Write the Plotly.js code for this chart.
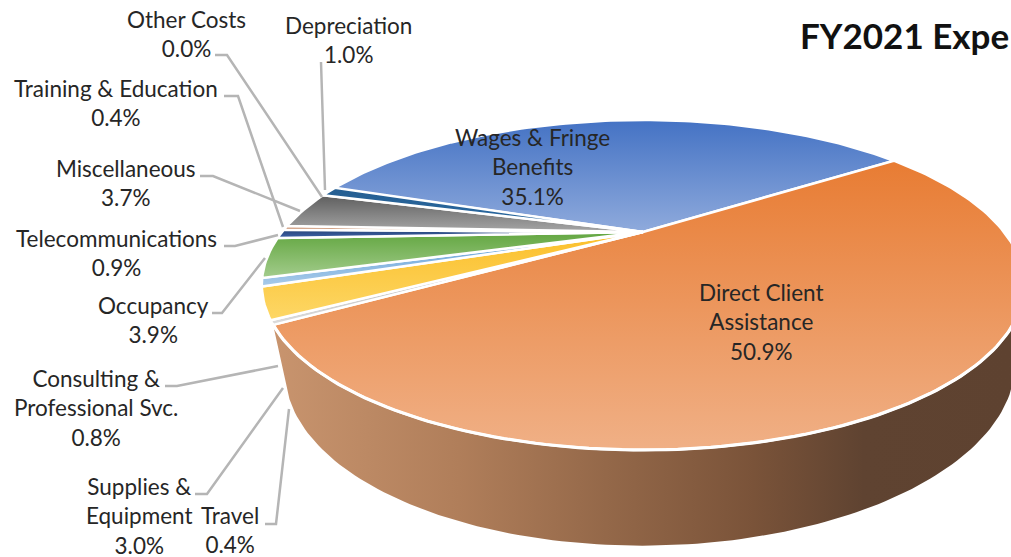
<!DOCTYPE html>
<html><head><meta charset="utf-8">
<script src="https://cdn.plot.ly/plotly-3.0.1.min.js"></script>
<style>html,body{margin:0;padding:0;background:#fff;overflow:hidden}#c{width:1011px;height:557px}</style>
</head><body><div id="c"></div>
<script>
// Data (clockwise from the start of the blue slice)
const categories = ['Wages & Fringe<br>Benefits','Direct Client<br>Assistance','Travel','Supplies &<br>Equipment','Consulting &<br>Professional Svc.','Occupancy','Telecommunications','Training & Education','Miscellaneous','Other Costs','Depreciation'];
const shares = [35.1,50.9,0.4,3.0,0.8,3.9,0.9,0.4,3.7,0.0,1.0];
const colorTop = ['#4472C4','#E87C33','#A5A5A5','#FBBF2A','#5B9BD5','#62A640','#264478','#B5714A','#5E5E5E','#997300','#255E91'];
const colorBottom = ['#8FAADC','#F0B086','#DCDCDC','#FDD766','#A9CBEA','#A3CC8C','#3F62A8','#E5B79A','#A6A6A6','#997300','#2A6AA3'];
const labelX = [532,761,230,139,96,153,116,116,126,186,348];
const labelY = [167,322,530,516,408,320,253,103,183,34,40];
const leaders = [null,null,
 [[265,276,289],[524,524,409]],
 [[195,207,283],[494,494,388]],
 [[165,177,278],[386,386,366]],
 [[212,222,265],[313,313,258]],
 [[224,235,278],[246,246,235]],
 [[224,238,283],[96,96,227]],
 [[200,213,300],[176,176,211]],
 [[215,227,322],[55,55,197]],
 [[321,321,325],[62,62,190]]];

// Perspective disc geometry
const cx=643, cy=232, R=361, S=148, k=0.321, startDeg=-71.1;
// Lower rim of the side wall: tilted ellipse
const wallCx=650, wallRx=365, wallCy=367.6, wallRy=178, wallTilt=3.8;
function rim(pct){
  const a=(90-(startDeg+pct*3.6))*Math.PI/180, u=Math.cos(a), v=Math.sin(a), d=1+k*v;
  return [cx+R*u/d, cy-S*v/d];
}
function arc(p0,p1){
  const n=Math.max(2,Math.ceil(Math.abs(p1-p0)*3)), X=[],Y=[];
  for(let i=0;i<=n;i++){const q=rim(p0+(p1-p0)*i/n);X.push(q[0]);Y.push(q[1]);}
  return [X,Y];
}
function wallRim(){
  const X=[],Y=[];
  for(let i=0;i<=120;i++){
    const t=i/120*Math.PI*0.95, u=Math.cos(t), w=Math.sin(t);
    X.push(wallCx+wallRx*u); Y.push(wallCy+wallRy*w-wallTilt*u);
  }
  return [X,Y];
}
const traces=[];
const oStart=shares[0], oEnd=shares[0]+shares[1];
const wT=arc(oEnd,oStart+12), wB=wallRim();
traces.push({type:'scatter',mode:'lines',x:wT[0].concat(wB[0]),y:wT[1].concat(wB[1]),fill:'toself',
  line:{width:0,color:'rgba(0,0,0,0)'},hoverinfo:'skip',
  fillgradient:{type:'horizontal',start:275,stop:1011,colorscale:[[0,'#C8946E'],[0.25,'#B07E5A'],[0.45,'#946849'],[0.65,'#7A5339'],[0.8,'#5F4331'],[1,'#5E4230']]}});
let acc=0;
shares.forEach((p,i)=>{
  if(p<=0){return;}
  const a=arc(acc,acc+p);
  const X=[cx].concat(a[0],[cx]), Y=[cy].concat(a[1],[cy]);
  traces.push({type:'scatter',mode:'lines',x:X,y:Y,fill:'toself',name:categories[i],
    line:{color:'#FFFFFF',width:2.5},hoverinfo:'skip',
    fillgradient:{type:'vertical',start:Math.min.apply(null,Y),stop:Math.max.apply(null,Y),
      colorscale:[[0,colorTop[i]],[1,colorBottom[i]]]}});
  acc+=p;
});
traces.push({type:'scatter',mode:'lines',x:wT[0],y:wT[1],line:{color:'#FFFFFF',width:3.2},hoverinfo:'skip'});
leaders.forEach(l=>{ if(l) traces.push({type:'scatter',mode:'lines',x:l[0],y:l[1],line:{color:'#B5B5B5',width:2.5},hoverinfo:'skip'}); });

const annotations=categories.map((c,i)=>({x:labelX[i],y:labelY[i],xref:'x',yref:'y',xanchor:'center',yanchor:'middle',
  align:'center',showarrow:false,text:c+'<br>'+shares[i].toFixed(1)+'%',font:{family:'Lato, Carlito, sans-serif',size:22.5,color:'#262626'}}));

Plotly.newPlot('c',traces,{
  width:1011,height:557,margin:{l:0,r:0,t:0,b:0},showlegend:false,
  paper_bgcolor:'#fff',plot_bgcolor:'#fff',
  title:{text:'<b>FY2021 Expe</b>',x:800/1011,xanchor:'left',y:1-37/557,yref:'paper',yanchor:'middle',font:{family:'Lato, Carlito, sans-serif',size:35,color:'#111'}},
  xaxis:{range:[0,1011],visible:false,fixedrange:true},
  yaxis:{range:[557,0],visible:false,fixedrange:true},
  annotations
},{displayModeBar:false,staticPlot:true});
</script></body></html>
